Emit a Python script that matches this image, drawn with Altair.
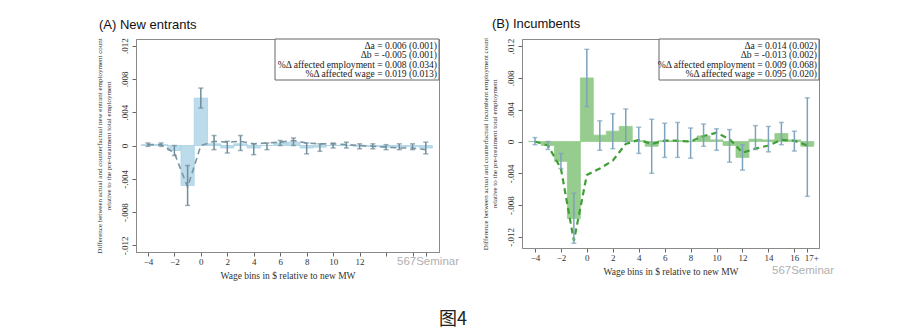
import altair as alt
import pandas as pd

bins = list(range(-4, 18))
xtick_vals = [-4, -2, 0, 2, 4, 6, 8, 10, 12, 14, 16, 17]

# Panel A: new entrants
a_est = [0.0001, 0.0001, -0.0006, -0.0048, 0.0057, 0.0002, -0.0003, 0.0002, -0.0003, 0.0000, 0.0003,
         0.0004, -0.0003, -0.0002, 0.0000, 0.0000, -0.0001, -0.0001, -0.0002, -0.0002, -0.0001, -0.0003]
a_lo = [-0.0001, -0.0001, -0.0012, -0.0072, 0.0045, -0.0005, -0.0009, -0.0006, -0.0011, -0.0005, 0.0000,
        0.0000, -0.0010, -0.0007, -0.0003, -0.0003, -0.0004, -0.0004, -0.0005, -0.0005, -0.0005, -0.0010]
a_hi = [0.0003, 0.0003, 0.0000, -0.0024, 0.0069, 0.0012, 0.0005, 0.0012, 0.0002, 0.0003, 0.0006,
        0.0009, 0.0003, 0.0002, 0.0003, 0.0004, 0.0002, 0.0002, 0.0001, 0.0002, 0.0002, 0.0004]
a_cf = [0.0001, 0.0001, -0.0009, -0.0050, 0.0000, 0.0005, 0.0004, 0.0005, 0.0002, 0.0003, 0.0004,
        0.0006, 0.0003, 0.0002, 0.0002, 0.0001, 0.0000, -0.0001, -0.0002, -0.0003, -0.0003, -0.0005]
legend_a = ["Δa =  0.006 (0.001)", "Δb = -0.005 (0.001)",
            "%Δ affected employment =  0.008 (0.034)", "%Δ affected wage =  0.019 (0.013)"]

# Panel B: incumbents
b_est = [0.0000, -0.0005, -0.0025, -0.0097, 0.0080, 0.0008, 0.0013, 0.0019, 0.0001, -0.0006, 0.0001,
         0.0001, 0.0000, 0.0007, 0.0002, -0.0005, -0.0020, 0.0003, 0.0002, 0.0010, 0.0002, -0.0006]
b_lo = [-0.0004, -0.0010, -0.0034, -0.0128, 0.0044, -0.0011, -0.0009, 0.0000, -0.0015, -0.0040, -0.0020,
        -0.0020, -0.0021, -0.0006, -0.0011, -0.0026, -0.0036, -0.0010, -0.0013, -0.0004, -0.0012, -0.0069]
b_hi = [0.0005, 0.0000, -0.0015, -0.0065, 0.0116, 0.0026, 0.0035, 0.0041, 0.0018, 0.0028, 0.0023,
        0.0024, 0.0017, 0.0022, 0.0016, 0.0015, -0.0004, 0.0020, 0.0019, 0.0024, 0.0013, 0.0055]
b_cf = [0.0000, -0.0005, -0.0034, -0.0125, -0.0042, -0.0034, -0.0024, -0.0003, 0.0002, -0.0003, 0.0001,
        0.0001, 0.0000, 0.0007, 0.0011, 0.0003, -0.0014, -0.0009, -0.0005, 0.0002, 0.0001, -0.0005]
legend_b = ["Δa =  0.014 (0.002)", "Δb = -0.013 (0.002)",
            "%Δ affected employment =  0.009 (0.068)", "%Δ affected wage =  0.095 (0.020)"]

SERIF = "Liberation Serif"
SANS = "Liberation Sans"


def panel(title, ytitle, est, lo, hi, cf, legend, w, h, xdom, ydom,
          bar_fill, bar_stroke, err_col, cf_col, cf_width, hide_right_labels,
          box_x, wm_xy, title_dx, caption=False):
    df = pd.DataFrame({"bin": bins, "est": est, "lo": lo, "hi": hi, "cf": cf})
    df["x0"] = df["bin"] - 0.5
    df["x1"] = df["bin"] + 0.5
    df["zero"] = 0.0

    lab_expr = "datum.value == 17 ? '17+' : datum.label"
    if hide_right_labels:
        lab_expr = "datum.value >= 14 ? '' : datum.label"
    xaxis = alt.Axis(values=xtick_vals, labelExpr=lab_expr, grid=False, tickSize=4,
                     labelFont=SERIF, labelFontSize=9, labelPadding=1,
                     labelOffset={"condition": {"test": "datum.value == 17", "value": 4}, "value": 0},
                     titleFont=SERIF, titleFontSize=9.5, titleFontWeight="normal", titlePadding=4)
    yaxis = alt.Axis(values=[-0.012, -0.008, -0.004, 0, 0.004, 0.008, 0.012],
                     labelExpr="datum.value == 0 ? '0' : replace(replace(format(datum.value, '.3f'), '0.', '.'), '\u2212', '-')",
                     grid=False, tickSize=4, labelAngle=270, labelAlign="center", labelBaseline="bottom",
                     labelFont=SERIF, labelFontSize=9, labelPadding=3,
                     titleFont=SERIF, titleFontSize=7, titleFontWeight="normal", titlePadding=9,
                     titleLineHeight=9)
    xs = alt.Scale(domain=xdom, nice=False, zero=False)
    ys = alt.Scale(domain=ydom, nice=False, zero=False)
    xtitle = "Wage bins in $ relative to new MW"

    def X(f):
        return alt.X(f, type="quantitative", scale=xs, axis=xaxis, title=xtitle)

    def Y(f):
        return alt.Y(f, type="quantitative", scale=ys, axis=yaxis, title=ytitle)

    base = alt.Chart(df)
    bars = base.mark_rect(fill=bar_fill, stroke=bar_stroke, strokeWidth=0.8).encode(
        x=X("x0"), x2="x1:Q", y=Y("est"), y2="zero:Q")
    cfl = base.mark_line(color=cf_col, strokeWidth=cf_width, strokeDash=[6, 4]).encode(
        x=X("bin"), y=Y("cf"))
    errs = base.mark_rule(color=err_col, strokeWidth=1.5).encode(
        x=X("bin"), y=Y("lo"), y2="hi:Q")
    cap_lo = base.mark_tick(color=err_col, orient="horizontal", size=5, thickness=1.5).encode(
        x=X("bin"), y=Y("lo"))
    cap_hi = base.mark_tick(color=err_col, orient="horizontal", size=5, thickness=1.5).encode(
        x=X("bin"), y=Y("hi"))

    box = alt.Chart(pd.DataFrame({"k": [0]})).mark_rect(
        fill="white", stroke="#666", strokeWidth=1).encode(
        x=alt.value(box_x), x2=alt.value(w), y=alt.value(0), y2=alt.value(41))
    txt = alt.Chart(pd.DataFrame({"t": ["\n".join(legend)]})).mark_text(
        align="right", baseline="top", lineBreak="\n", font=SERIF, fontSize=9.6,
        lineHeight=9.3, color="#222").encode(
        x=alt.value(w - 2), y=alt.value(2), text="t:N")
    wm = alt.Chart(pd.DataFrame({"t": ["567Seminar"]})).mark_text(
        align="left", baseline="middle", font=SANS, fontSize=11.5, color="#b0b0b0").encode(
        x=alt.value(wm_xy[0]), y=alt.value(wm_xy[1]), text="t:N")

    layers = [bars, cfl, errs, cap_lo, cap_hi, box, txt, wm]
    if caption:
        cap = alt.Chart(pd.DataFrame({"t": ["图4"]})).mark_text(
            align="center", baseline="middle", font="Noto Sans CJK SC", fontSize=18,
            color="#222").encode(x=alt.value(317), y=alt.value(281), text="t:N")
        layers.append(cap)

    return alt.layer(*layers).properties(
        width=w, height=h,
        title=alt.TitleParams(title, anchor="start", frame="bounds", font=SANS, fontSize=13,
                              fontWeight="normal", color="#111", offset=6, dx=title_dx))


pa = panel("(A) New entrants",
           ["Difference between actual and counterfactual new entrant employment count",
            "relative to the pre-treatment total employment"],
           a_est, a_lo, a_hi, a_cf, legend_a, 303, 213, [-4.9, 18.0], [-0.0128, 0.0128],
           "#bcdcec", "#a9d2e6", "#6f8d9b", "#7b95a3", 1.6, True, 139, (261, 223), 4, caption=True)
pb = panel("(B) Incumbents",
           ["Difference between actual and counterfactual incumbent employment count",
            "relative to the pre-treatment total employment"],
           b_est, b_lo, b_hi, b_cf, legend_b, 297, 209, [-5.0, 17.9], [-0.0134, 0.0129],
           "#96cd8e", "#96cd8e", "#7ca2bd", "#3f9f36", 2.2, False, 137, (250, 232), 11)

chart = alt.hconcat(pa, pb, spacing=83, bounds="flush").properties(
    padding={"left": 94, "top": 17, "right": 0, "bottom": 0},
    background="white",
).configure_view(stroke="#8a8a8a", strokeWidth=1).configure_axis(
    domainColor="#8a8a8a", tickColor="#666", labelColor="#333", titleColor="#333"
)

chart.save("out.html", embed_options={"renderer": "svg", "actions": False})
